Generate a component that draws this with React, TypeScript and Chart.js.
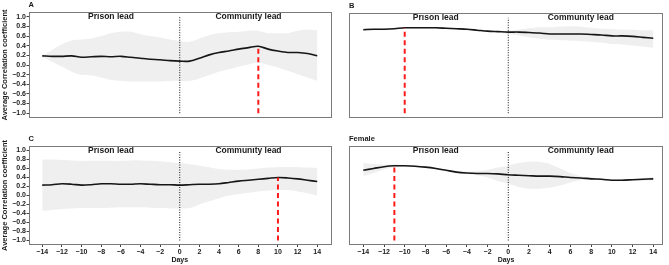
import React, { useEffect, useRef } from "react";
import { Chart, registerables } from "chart.js";

Chart.register(...registerables);

// Lag in days (negative: prison series leads, positive: community series leads)
const days = [-14, -13, -12, -11, -10, -9, -8, -7, -6, -5, -4, -3, -2, -1, 0, 1, 2, 3, 4, 5, 6, 7, 8, 9, 10, 11, 12, 13, 14];
const xTicks = [-14, -12, -10, -8, -6, -4, -2, 0, 2, 4, 6, 8, 10, 12, 14];
const yTicks = [-1.0, -0.8, -0.6, -0.4, -0.2, 0.0, 0.2, 0.4, 0.6, 0.8, 1.0];

const leadLabels = ["Prison lead", "Community lead"];
const leadLabelDays = [-7, 7];

const yTitle = "Average Correlation coefficient";
const xTitle = "Days";

// Panel A
const aMean = [0.19, 0.18, 0.18, 0.19, 0.16, 0.17, 0.18, 0.17, 0.18, 0.16, 0.14, 0.12, 0.11, 0.09, 0.08, 0.08, 0.14, 0.21, 0.26, 0.29, 0.33, 0.36, 0.39, 0.33, 0.29, 0.26, 0.26, 0.24, 0.19];
const aUpper = [0.19, 0.31, 0.43, 0.51, 0.53, 0.55, 0.6, 0.66, 0.69, 0.69, 0.64, 0.6, 0.57, 0.53, 0.5, 0.48, 0.55, 0.62, 0.66, 0.68, 0.69, 0.71, 0.71, 0.66, 0.66, 0.66, 0.71, 0.73, 0.72];
const aLower = [0.17, 0.07, -0.03, -0.14, -0.21, -0.22, -0.26, -0.31, -0.33, -0.34, -0.34, -0.34, -0.34, -0.33, -0.33, -0.33, -0.28, -0.21, -0.14, -0.09, -0.03, 0.01, 0.05, 0.0, -0.05, -0.12, -0.19, -0.26, -0.33];
const aPeakDay = 8;

// Panel B
const bMean = [0.75, 0.76, 0.76, 0.77, 0.79, 0.79, 0.79, 0.79, 0.78, 0.77, 0.76, 0.74, 0.72, 0.71, 0.7, 0.7, 0.69, 0.68, 0.66, 0.66, 0.66, 0.66, 0.65, 0.64, 0.62, 0.62, 0.61, 0.59, 0.57];
const bUpper = [0.78, 0.78, 0.78, 0.79, 0.8, 0.8, 0.8, 0.8, 0.79, 0.78, 0.78, 0.76, 0.74, 0.73, 0.73, 0.75, 0.78, 0.8, 0.8, 0.81, 0.82, 0.81, 0.79, 0.77, 0.76, 0.75, 0.75, 0.74, 0.74];
const bLower = [0.72, 0.74, 0.74, 0.75, 0.77, 0.77, 0.77, 0.77, 0.76, 0.75, 0.74, 0.72, 0.7, 0.69, 0.66, 0.63, 0.59, 0.56, 0.54, 0.53, 0.52, 0.51, 0.5, 0.48, 0.45, 0.44, 0.42, 0.4, 0.37];
const bPeakDay = -10;

// Panel C
const cMean = [0.23, 0.24, 0.26, 0.25, 0.23, 0.24, 0.26, 0.26, 0.25, 0.25, 0.26, 0.25, 0.24, 0.24, 0.23, 0.24, 0.25, 0.25, 0.26, 0.29, 0.32, 0.34, 0.36, 0.38, 0.4, 0.39, 0.37, 0.34, 0.31];
const cUpper = [0.8, 0.8, 0.79, 0.78, 0.77, 0.77, 0.77, 0.77, 0.77, 0.78, 0.78, 0.77, 0.76, 0.74, 0.72, 0.7, 0.66, 0.63, 0.59, 0.57, 0.57, 0.58, 0.6, 0.62, 0.63, 0.63, 0.63, 0.62, 0.61];
const cLower = [-0.34, -0.32, -0.3, -0.29, -0.28, -0.28, -0.28, -0.27, -0.26, -0.26, -0.26, -0.27, -0.28, -0.29, -0.29, -0.28, -0.2, -0.13, -0.06, 0.0, 0.03, 0.06, 0.09, 0.11, 0.13, 0.12, 0.09, 0.05, 0.0];
const cPeakDay = 10;

// Female
const fMean = [0.56, 0.6, 0.64, 0.66, 0.66, 0.65, 0.63, 0.6, 0.56, 0.52, 0.5, 0.49, 0.49, 0.48, 0.46, 0.45, 0.44, 0.43, 0.43, 0.42, 0.4, 0.39, 0.37, 0.36, 0.34, 0.34, 0.35, 0.36, 0.37];
const fUpper = [0.72, 0.7, 0.69, 0.69, 0.68, 0.67, 0.65, 0.62, 0.58, 0.55, 0.53, 0.54, 0.57, 0.62, 0.66, 0.72, 0.75, 0.75, 0.7, 0.6, 0.5, 0.43, 0.4, 0.38, 0.36, 0.37, 0.37, 0.39, 0.41];
const fLower = [0.43, 0.5, 0.58, 0.63, 0.64, 0.63, 0.61, 0.58, 0.54, 0.5, 0.47, 0.45, 0.4, 0.32, 0.26, 0.19, 0.15, 0.15, 0.17, 0.22, 0.29, 0.34, 0.35, 0.34, 0.32, 0.32, 0.33, 0.33, 0.34];
const fPeakDay = -11;

const FONT = "'Liberation Sans', Arial, Helvetica, sans-serif";
const TEXT = "#1a1a1a";
const BAND = "#efefef";

const fmtY = (n: number) => (n < 0 ? "\u2212" : "") + Math.abs(n).toFixed(1);
const fmtX = (n: number) => (n < 0 ? "\u2212" : "") + Math.abs(n);

type PanelSpec = {
  key: string;
  title: string;
  mean: number[];
  upper: number[];
  lower: number[];
  peakDay: number;
  left: number;
  top: number;
  w: number;
  h: number;
  showY: boolean;
  showX: boolean;
  pad: { left: number; right: number; top: number; bottom: number };
  xMin: number;
  xMax: number;
};

const panels: PanelSpec[] = [
  { key: "A", title: "A", mean: aMean, upper: aUpper, lower: aLower, peakDay: aPeakDay, left: 0, top: 0, w: 335, h: 130, showY: true, showX: false, pad: { left: 0, right: 4, top: 12, bottom: 12 }, xMin: -15.4, xMax: 15.4 },
  { key: "B", title: "B", mean: bMean, upper: bUpper, lower: bLower, peakDay: bPeakDay, left: 335, top: 0, w: 334, h: 130, showY: false, showX: false, pad: { left: 14, right: 6, top: 13, bottom: 12 }, xMin: -15.38, xMax: 14.94 },
  { key: "C", title: "C", mean: cMean, upper: cUpper, lower: cLower, peakDay: cPeakDay, left: 0, top: 135, w: 335, h: 130, showY: true, showX: true, pad: { left: 0, right: 4, top: 11, bottom: 0 }, xMin: -15.4, xMax: 15.4 },
  { key: "F", title: "Female", mean: fMean, upper: fUpper, lower: fLower, peakDay: fPeakDay, left: 335, top: 135, w: 334, h: 130, showY: false, showX: true, pad: { left: 14, right: 6, top: 11, bottom: 0 }, xMin: -15.38, xMax: 14.94 },
];

// Frame, panel title and the two "lead" captions
const panelDecor = {
  id: "panelDecor",
  afterDatasetsDraw(chart: any) {
    const { ctx, scales } = chart;
    ctx.save();
    ctx.fillStyle = TEXT;
    ctx.font = `bold 8.5px ${FONT}`;
    ctx.textAlign = "center";
    ctx.textBaseline = "middle";
    leadLabels.forEach((label, i) => {
      ctx.fillText(label, scales.x.getPixelForValue(leadLabelDays[i]), scales.y.getPixelForValue(1.0));
    });
    ctx.restore();
  },
  afterDraw(chart: any, _args: any, opts: any) {
    const { ctx, chartArea } = chart;
    ctx.save();
    ctx.strokeStyle = "#7a7a7a";
    ctx.lineWidth = 1;
    ctx.strokeRect(
      Math.round(chartArea.left) + 0.5,
      Math.round(chartArea.top) + 0.5,
      Math.round(chartArea.right - chartArea.left) - 1,
      Math.round(chartArea.bottom - chartArea.top) - 1
    );
    ctx.fillStyle = TEXT;
    ctx.font = `bold 7.5px ${FONT}`;
    ctx.textAlign = "left";
    ctx.textBaseline = "alphabetic";
    ctx.fillText(opts.title, chartArea.left, chartArea.top - 5);
    ctx.restore();
  },
};

function buildConfig(spec: PanelSpec): any {
  const pts = (vals: number[]) => days.map((d, i) => ({ x: d, y: vals[i] }));
  const peakValue = spec.mean[days.indexOf(spec.peakDay)];
  const tickFont = { family: FONT, size: 7, weight: "bold" as const };
  return {
    type: "line",
    data: {
      datasets: [
        { data: pts(spec.upper), borderWidth: 0, pointRadius: 0, fill: "+1", backgroundColor: BAND, tension: 0.3, order: 4 },
        { data: pts(spec.lower), borderWidth: 0, pointRadius: 0, fill: false, tension: 0.3, order: 4 },
        { data: [{ x: 0, y: -1 }, { x: 0, y: 1 }], borderColor: "#111", borderWidth: 1, borderDash: [1, 1.5], pointRadius: 0, fill: false, order: 3 },
        { data: pts(spec.mean), borderColor: "#161616", borderWidth: 1.6, pointRadius: 0, fill: false, tension: 0.3, order: 2 },
        { data: [{ x: spec.peakDay, y: -1 }, { x: spec.peakDay, y: peakValue }], borderColor: "#ff1a1a", borderWidth: 2, borderDash: [5, 3.5], pointRadius: 0, fill: false, order: 1 },
      ],
    },
    options: {
      animation: false,
      responsive: false,
      devicePixelRatio: 1,
      events: [],
      layout: { padding: spec.pad },
      plugins: {
        legend: { display: false },
        tooltip: { enabled: false },
        filler: { propagate: false, drawTime: "beforeDatasetsDraw" },
        panelDecor: { title: spec.title },
      },
      scales: {
        x: {
          type: "linear",
          min: spec.xMin,
          max: spec.xMax,
          display: spec.showX,
          afterBuildTicks: (s: any) => {
            s.ticks = xTicks.map((v) => ({ value: v }));
          },
          afterFit: (s: any) => {
            s.height = spec.showX ? 20 : 0;
          },
          grid: { drawOnChartArea: false, drawTicks: true, tickLength: 2, color: "#444" },
          border: { display: false },
          ticks: { padding: 1, font: tickFont, color: TEXT, maxRotation: 0, autoSkip: false, callback: (v: number) => fmtX(v) },
          title: { display: true, text: xTitle, font: { family: FONT, size: 7, weight: "bold" }, color: TEXT, padding: { top: 0, bottom: 0.8 } },
        },
        y: {
          type: "linear",
          min: -1.1,
          max: 1.1,
          display: spec.showY,
          afterBuildTicks: (s: any) => {
            s.ticks = yTicks.map((v) => ({ value: v }));
          },
          afterFit: (s: any) => {
            s.width = spec.showY ? 28.5 : 0;
          },
          grid: { drawOnChartArea: false, drawTicks: true, tickLength: 2, color: "#444" },
          border: { display: false },
          ticks: { padding: 0.5, font: tickFont, color: TEXT, autoSkip: false, callback: (v: number) => fmtY(v) },
          title: { display: true, text: yTitle, font: { family: FONT, size: 7.5, weight: "bold" }, color: TEXT, padding: { top: 0.5, bottom: 0 } },
        },
      },
    },
    plugins: [panelDecor],
  };
}

function Panel({ spec }: { spec: PanelSpec }) {
  const ref = useRef<HTMLCanvasElement>(null);
  useEffect(() => {
    if (!ref.current) return;
    const chart = new Chart(ref.current, buildConfig(spec));
    return () => chart.destroy();
  }, [spec]);
  return (
    <canvas
      ref={ref}
      width={spec.w}
      height={spec.h}
      style={{ position: "absolute", left: spec.left, top: spec.top, width: spec.w, height: spec.h }}
    />
  );
}

export default function App() {
  return (
    <div style={{ position: "absolute", left: 0, top: 0, width: 669, height: 265, background: "#fff", overflow: "hidden" }}>
      {panels.map((p) => (
        <Panel key={p.key} spec={p} />
      ))}
    </div>
  );
}
